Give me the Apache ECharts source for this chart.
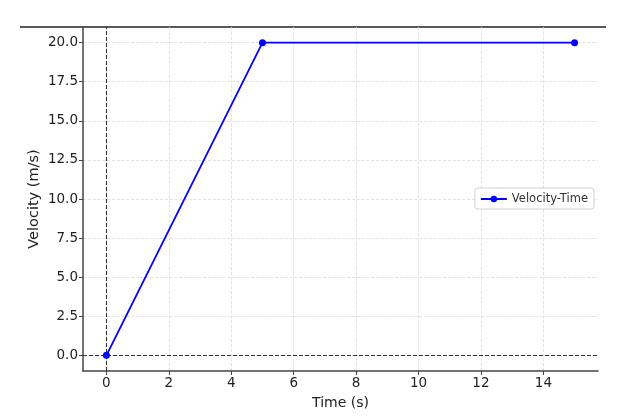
<!DOCTYPE html>
<html>
<head>
<meta charset="utf-8">
<script src="https://cdn.jsdelivr.net/npm/echarts@6/dist/echarts.min.js"></script>
<style>
  html, body { margin: 0; padding: 0; background: #fff; }
  #chart { width: 642px; height: 419px; }
</style>
</head>
<body>
<div id="chart"></div>
<script>
// data
const timeValues = [0, 5, 15];
const velocityValues = [0, 20, 20];
const xTicks = [0, 2, 4, 6, 8, 10, 12, 14];
const yTicks = [0, 2.5, 5, 7.5, 10, 12.5, 15, 17.5, 20];

const fontFamily = 'DejaVu Sans';
const lineColor = '#0000ff';

const chart = echarts.init(document.getElementById('chart'));
const points = timeValues.map((t, i) => [t, velocityValues[i]]);

const option = {
  animation: false,
  textStyle: { fontFamily: fontFamily },
  grid: { left: 83, right: 44, top: 27, bottom: 48 },
  legend: {
    right: 48,
    top: 188,
    orient: 'vertical',
    backgroundColor: '#fff',
    borderColor: '#d0d0d0',
    borderWidth: 1,
    borderRadius: 3,
    padding: [5, 6, 4, 5],
    itemWidth: 26,
    itemHeight: 8,
    itemGap: 4,
    textStyle: { fontSize: 11.5, color: '#333', fontFamily: fontFamily },
    data: ['Velocity-Time']
  },
  xAxis: {
    type: 'value',
    min: -0.75,
    max: 15.75,
    name: 'Time (s)',
    nameLocation: 'middle',
    nameGap: 25,
    nameTextStyle: { fontSize: 14, color: '#222', fontFamily: fontFamily },
    axisLine: { onZero: false, lineStyle: { color: '#444', width: 1.5 } },
    axisTick: { show: true, length: 4, customValues: xTicks, lineStyle: { color: '#444' } },
    axisLabel: { customValues: xTicks, fontSize: 13.5, color: '#222', margin: 5 },
    splitLine: { show: true, lineStyle: { color: '#dcdcdc', type: 'dashed', width: 0.8 } }
  },
  yAxis: {
    type: 'value',
    min: -1,
    max: 21,
    name: 'Velocity (m/s)',
    nameLocation: 'middle',
    nameGap: 41,
    nameMoveOverlap: false,
    nameTextStyle: { fontSize: 14.5, color: '#222', fontFamily: fontFamily },
    axisLine: { show: true, onZero: false, lineStyle: { color: '#444', width: 1.5 } },
    axisTick: { show: true, length: 4, customValues: yTicks, lineStyle: { color: '#444' } },
    axisLabel: {
      customValues: yTicks,
      fontSize: 13.5,
      color: '#222',
      margin: 5,
      formatter: v => v.toFixed(1)
    },
    splitLine: { show: true, lineStyle: { color: '#dcdcdc', type: 'dashed', width: 0.8 } }
  },
  series: [
    {
      name: 'Velocity-Time',
      type: 'line',
      data: points,
      symbol: 'circle',
      symbolSize: 7,
      itemStyle: { color: lineColor },
      lineStyle: { color: lineColor, width: 1.8 },
      markLine: {
        silent: true,
        symbol: 'none',
        label: { show: false },
        lineStyle: { color: '#333', type: [4, 2], width: 1.1 },
        data: [{ xAxis: 0 }, { yAxis: 0 }]
      },
      z: 5
    }
  ],
  graphic: [
    {
      type: 'line',
      shape: { x1: 20, y1: 27, x2: 606, y2: 27 },
      style: { stroke: '#222', lineWidth: 1.3 }
    }
  ]
};

chart.setOption(option);
</script>
</body>
</html>
